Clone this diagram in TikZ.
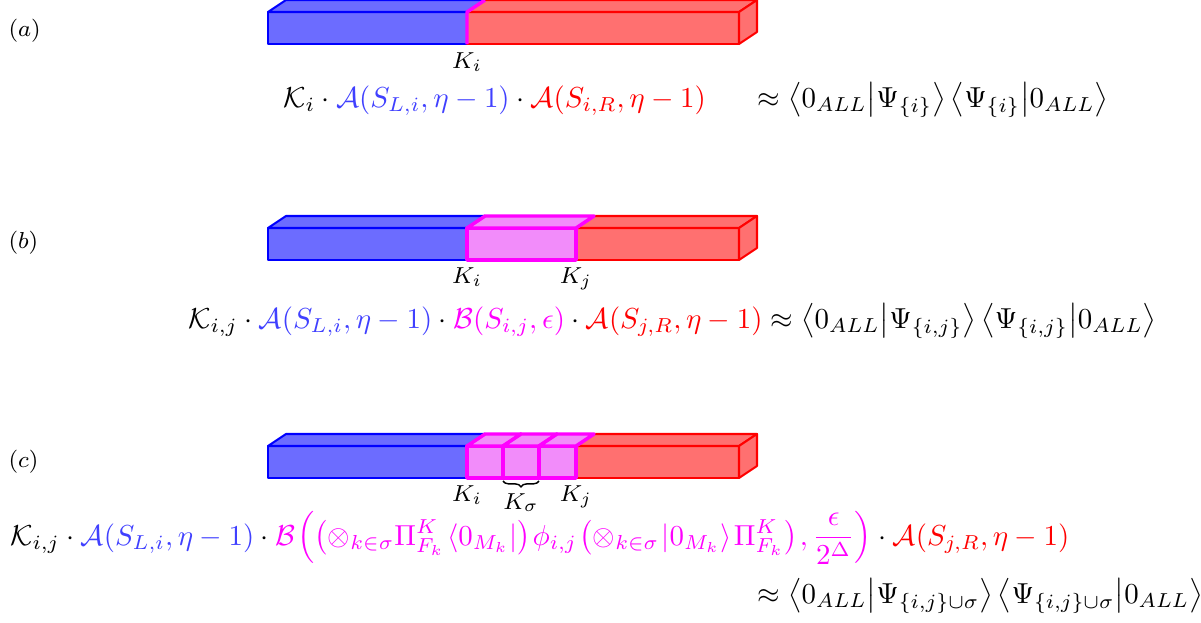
\documentclass[tikz,border=0pt]{standalone}
\usepackage{amsmath}
\usetikzlibrary{decorations.pathreplacing}
\definecolor{bfill}{RGB}{108,108,255}
\definecolor{rfill}{RGB}{255,112,112}
\definecolor{mfill}{RGB}{242,140,250}
\definecolor{btext}{RGB}{64,64,255}
\definecolor{mag}{RGB}{255,0,255}
\definecolor{bedge}{RGB}{0,0,255}
\definecolor{redge}{RGB}{255,0,0}
\newcommand\drawfront[4]{%
  \path[#4] (#1,#3) rectangle (#2,#3+32);
  \path[#4] (#1,#3) -- (#1+18,#3-12) -- (#2+18,#3-12) -- (#2,#3) -- cycle;}
\newcommand\drawside[3]{%
  \path[#3] (#1,#2) -- (#1+18,#2-12) -- (#1+18,#2+20) -- (#1,#2+32) -- cycle;}
\newcommand\tsp{\mskip1.5mu}
\begin{document}
\begin{tikzpicture}[x=0.3460pt,y=-0.3460pt,
  blueface/.style={fill=bfill,draw=bedge,line width=0.7pt,line join=round},
  redface/.style={fill=rfill,draw=redge,line width=0.7pt,line join=round},
  magface/.style={fill=mfill,draw=mag,line width=1.2pt,line join=round},
  magline/.style={draw=mag,line width=1.2pt,line join=round},
  klabel/.style={anchor=base,font=\footnotesize,inner sep=0pt},
  plabel/.style={anchor=base west,font=\footnotesize,inner sep=0pt},
  formula/.style={anchor=base west,inner sep=0pt}]
\useasboundingbox (0,0) rectangle (1201,623);

% ---------- (a)
\node[plabel] (la) at (8,36) {$(a)$};
\drawfront{268}{467}{12}{blueface}
\drawfront{467}{739}{12}{redface}
\drawside{739}{12}{redface}
\draw[magline] (467,44) -- (467,12) -- (485,0);
\node[klabel] (kia) at (467,68) {$K_i$};
\node[formula] (fa1) at (283,107) {$\mathcal{K}_i\cdot{\color{btext}\mathcal{A}(S_{L,i},\eta-1)}\cdot{\color{redge}\mathcal{A}(S_{i,R},\eta-1)}$};
\node[formula] (fa2) at (757,107) {$\approx\left\langle 0_{ALL}\middle|\Psi_{\{i\}}\right\rangle\left\langle\Psi_{\{i\}}\middle|0_{ALL}\right\rangle$};

% ---------- (b)
\node[plabel] (lb) at (8,248) {$(b)$};
\drawfront{268}{467}{228}{blueface}
\drawfront{576}{739}{228}{redface}
\drawside{739}{228}{redface}
\drawfront{467}{576}{228}{magface}
\node[klabel] (kib) at (467,283) {$K_i$};
\node[klabel] (kjb) at (576,283) {$K_j$};
\node[formula] (fb) at (188,328) {$\mathcal{K}_{i,j}\cdot{\color{btext}\mathcal{A}(S_{L,i},\eta-1)}\cdot{\color{mag}\mathcal{B}(S_{i,j},\epsilon)}\cdot{\color{redge}\mathcal{A}(S_{j,R},\eta-1)}\approx\left\langle 0_{ALL}\middle|\Psi_{\{i,j\}}\right\rangle\left\langle\Psi_{\{i,j\}}\middle|0_{ALL}\right\rangle$};

% ---------- (c)
\node[plabel] (lc) at (8,467) {$(c)$};
\drawfront{268}{467}{446}{blueface}
\drawfront{576}{739}{446}{redface}
\drawside{739}{446}{redface}
\drawfront{467}{503}{446}{magface}
\drawfront{503}{539}{446}{magface}
\drawfront{539}{576}{446}{magface}
\coordinate (bs) at (503,481);
\coordinate (be) at (539,481);
\draw[decorate,decoration={brace,mirror,amplitude=2pt},line width=0.5pt] (bs) -- (be);
\node[klabel] (kic) at (467,501) {$K_i$};
\node[klabel] (ksc) at (521,509) {$K_\sigma$};
\node[klabel] (kjc) at (576,501) {$K_j$};
\node[formula] (fc1) at (10,545) {$\displaystyle\mathcal{K}_{i,j}\cdot{\color{btext}\mathcal{A}(S_{L,i},\eta-1)}\cdot{\color{mag}\mathcal{B}\tsp\Bigl(\bigl(\otimes_{k\in\sigma}\Pi^K_{F_k}\tsp\langle 0_{M_k}|\bigr)\tsp\phi_{i,j}\tsp\bigl(\otimes_{k\in\sigma}\tsp|0_{M_k}\rangle\tsp\Pi^K_{F_k}\bigr)\tsp,\frac{\epsilon}{2^\Delta}\Bigr)}\cdot{\color{redge}\mathcal{A}(S_{j,R},\eta-1)}$};
\node[formula] (fc2) at (757,603) {$\approx\left\langle 0_{ALL}\middle|\Psi_{\{i,j\}\cup\sigma}\right\rangle\left\langle\Psi_{\{i,j\}\cup\sigma}\middle|0_{ALL}\right\rangle$};
\end{tikzpicture}
\end{document}
